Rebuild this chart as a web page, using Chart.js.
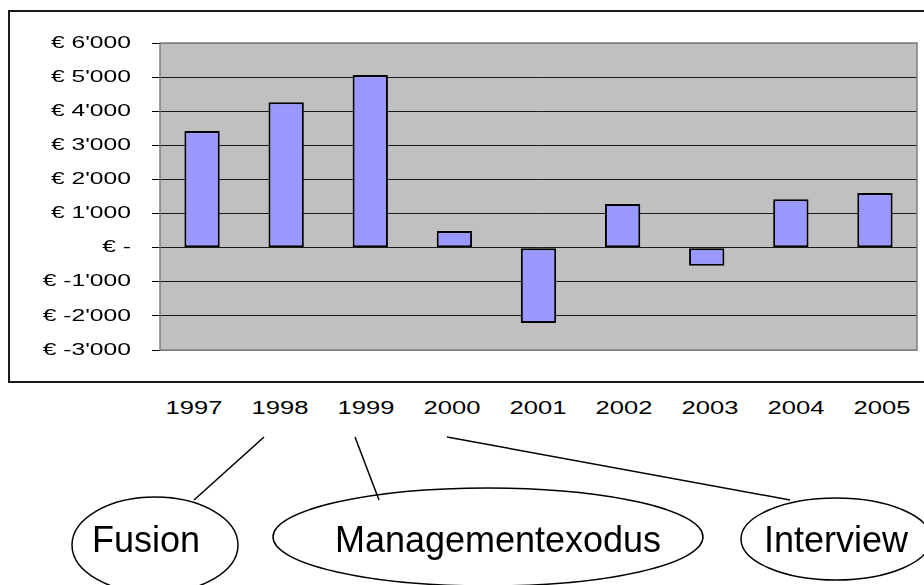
<!DOCTYPE html>
<html>
<head>
<meta charset="utf-8">
<script src="https://cdn.jsdelivr.net/npm/chart.js@4.4.1/dist/chart.umd.min.js"></script>
<style>
  body { margin: 0; background: #fff; font-family: Arial, "Liberation Sans", sans-serif; }
  #page { position: relative; width: 924px; height: 585px; overflow: hidden; }
  #frame { position: absolute; left: 8px; top: 10px; width: 940px; height: 369px; border: 2px solid #1a1a1a; }
  #chartBox { position: absolute; left: 0; top: 0; width: 924px; height: 385px; }
  #years span {
    position: absolute; top: 398px; font-size: 18px; line-height: 20px; color: #000;
    transform: translateX(-50%) scaleX(1.42); white-space: nowrap;
  }
  #notes { position: absolute; left: 0; top: 0; }
  #notes text { font-family: Arial, "Liberation Sans", sans-serif; font-size: 36px; fill: #000; }
</style>
</head>
<body>
<div id="page">
  <div id="frame"></div>
  <div id="chartBox"><canvas id="profitChart"></canvas></div>
  <div id="years"></div>
  <svg id="notes" width="924" height="585">
    <g stroke="#000" stroke-width="1.5" fill="none">
      <line x1="264" y1="437" x2="194" y2="500" />
      <line x1="355" y1="437" x2="379" y2="500" />
      <line x1="447" y1="437" x2="790" y2="500" />
      <ellipse cx="155" cy="545" rx="83" ry="48" />
      <ellipse cx="488" cy="537" rx="215" ry="49" />
      <ellipse cx="836" cy="539" rx="95" ry="41" />
    </g>
    <text id="note0" x="146" y="552" text-anchor="middle"></text>
    <text id="note1" x="498" y="552" text-anchor="middle"></text>
    <text id="note2" x="836" y="552" text-anchor="middle"></text>
  </svg>
</div>
<script>
const years = ['1997', '1998', '1999', '2000', '2001', '2002', '2003', '2004', '2005'];
const profit = [3420, 4260, 5060, 490, -2210, 1280, -530, 1420, 1600];
const yMin = -3000;
const yMax = 6000;
const yStep = 1000;
const events = ['Fusion', 'Managementexodus', 'Interview'];

function euro(value) {
  if (value === 0) return '€ -';
  const sign = value < 0 ? '-' : '';
  const digits = String(Math.abs(value)).replace(/\B(?=(\d{3})+(?!\d))/g, "'");
  return `€ ${sign}${digits}`;
}

// year row sits below the chart frame, spaced a bit wider than the bars
years.forEach((year, i) => {
  const span = document.createElement('span');
  span.textContent = year;
  span.style.left = `${193.5 + i * 86}px`;
  document.getElementById('years').appendChild(span);
});

events.forEach((label, i) => {
  document.getElementById(`note${i}`).textContent = label;
});

const plotBackground = {
  id: 'plotBackground',
  beforeDraw(chart) {
    const { ctx, chartArea } = chart;
    ctx.save();
    ctx.fillStyle = '#c0c0c0';
    ctx.fillRect(chartArea.left, chartArea.top, chartArea.width, chartArea.height);
    ctx.restore();
  },
  beforeDatasetsDraw(chart) {
    const { ctx, chartArea } = chart;
    ctx.save();
    ctx.strokeStyle = '#808080';
    ctx.lineWidth = 1.5;
    ctx.strokeRect(chartArea.left, chartArea.top, chartArea.width, chartArea.height);
    ctx.restore();
  }
};

// the y labels in the original are stretched sideways, so draw them by hand
const stretchedTicks = {
  id: 'stretchedTicks',
  afterDraw(chart) {
    const scale = chart.scales.y;
    const ctx = chart.ctx;
    ctx.save();
    ctx.font = '17px Arial, "Liberation Sans", sans-serif';
    ctx.fillStyle = '#000';
    ctx.textAlign = 'right';
    ctx.textBaseline = 'middle';
    scale.ticks.forEach((tick, i) => {
      ctx.save();
      ctx.translate(scale.right - 29, scale.getPixelForTick(i));
      ctx.scale(1.45, 1);
      ctx.fillText(euro(tick.value), 0, 0);
      ctx.restore();
    });
    ctx.restore();
  }
};

new Chart(document.getElementById('profitChart'), {
  type: 'bar',
  data: {
    labels: years,
    datasets: [{
      data: profit,
      backgroundColor: '#9999ff',
      borderColor: '#000',
      borderWidth: 2,
      borderSkipped: false,
      barPercentage: 0.42,
      categoryPercentage: 1
    }]
  },
  options: {
    responsive: true,
    maintainAspectRatio: false,
    animation: false,
    layout: { padding: { top: 43, bottom: 35, right: 7, left: 0 } },
    plugins: { legend: { display: false }, tooltip: { enabled: false } },
    scales: {
      x: { display: false },
      y: {
        min: yMin,
        max: yMax,
        afterFit: (scale) => { scale.width = 160; },
        ticks: { stepSize: yStep, display: false },
        border: { display: false },
        grid: {
          color: (ctx) => (ctx.tick && (ctx.tick.value === yMax || ctx.tick.value === yMin)) ? '#808080' : '#1a1a1a',
          lineWidth: 1,
          tickColor: '#000',
          tickLength: 8,
          drawTicks: true
        }
      }
    }
  },
  plugins: [plotBackground, stretchedTicks]
});
</script>
</body>
</html>
